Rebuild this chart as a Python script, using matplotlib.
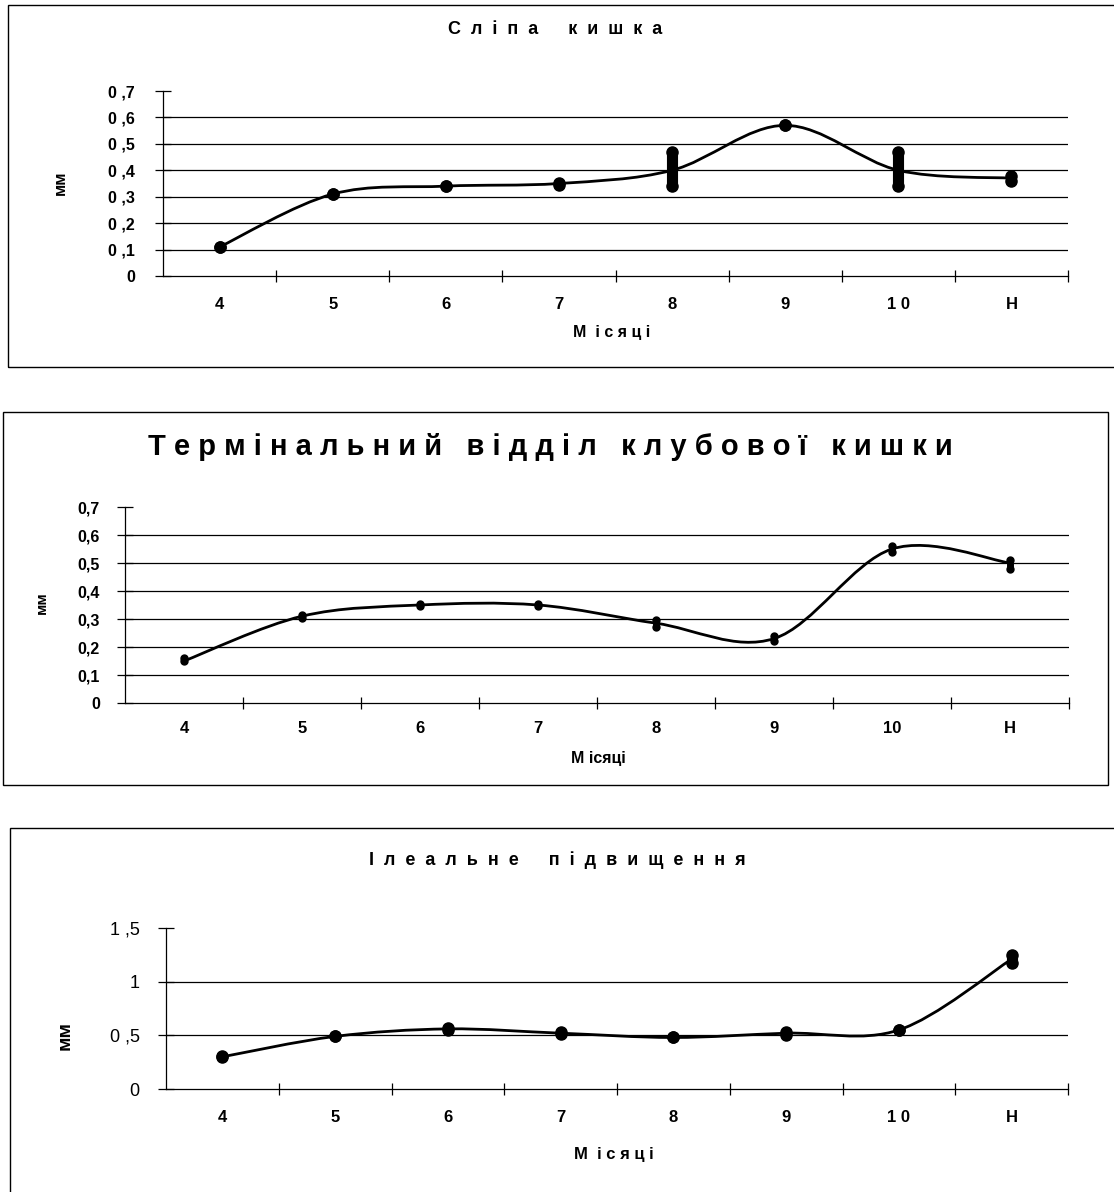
import numpy as np
import matplotlib
matplotlib.use('Agg')
import matplotlib.pyplot as plt
from matplotlib.path import Path
from matplotlib.patches import PathPatch, Rectangle

plt.rcParams['font.family'] = ['Liberation Sans', 'DejaVu Sans']

W, H = 1114, 1192

# categories (months)
months_1 = ['4', '5', '6', '7', '8', '9', '1 0', 'Н']
months_2 = ['4', '5', '6', '7', '8', '9', '10', 'Н']
months_3 = ['4', '5', '6', '7', '8', '9', '1 0', 'Н']

# Сліпа кишка: mean value and spread of the marker column
slipa_val = [0.11, 0.31, 0.34, 0.35, 0.40, 0.57, 0.40, 0.37]
slipa_lo = [0.11, 0.31, 0.34, 0.345, 0.34, 0.57, 0.34, 0.36]
slipa_hi = [0.11, 0.31, 0.34, 0.35, 0.47, 0.57, 0.47, 0.38]

# Термінальний відділ клубової кишки
term_val = [0.15, 0.31, 0.35, 0.35, 0.285, 0.23, 0.55, 0.50]
term_lo = [0.15, 0.305, 0.345, 0.345, 0.27, 0.22, 0.54, 0.48]
term_hi = [0.16, 0.315, 0.355, 0.355, 0.295, 0.24, 0.56, 0.51]

# Ілеальне підвищення
il_val = [0.30, 0.49, 0.56, 0.52, 0.48, 0.52, 0.55, 1.21]
il_lo = [0.30, 0.49, 0.55, 0.51, 0.48, 0.50, 0.55, 1.17]
il_hi = [0.31, 0.49, 0.57, 0.53, 0.48, 0.53, 0.55, 1.25]


def fx(x):
    return x / W


def fy(y):
    return 1 - y / H


def smooth_path(xs, ys):
    # Excel-style smoothed line: cubic bezier segments
    pts = np.column_stack([xs, ys]).astype(float)
    n = len(pts)
    verts = [pts[0]]
    codes = [Path.MOVETO]
    for i in range(n - 1):
        p0 = pts[i - 1] if i > 0 else pts[i]
        p1 = pts[i]
        p2 = pts[i + 1]
        p3 = pts[i + 2] if i + 2 < n else pts[i + 1]
        c1 = p1 + (p2 - p0) / 6.0
        c2 = p2 - (p3 - p1) / 6.0
        verts += [c1, c2, p2]
        codes += [Path.CURVE4] * 3
    return Path(verts, codes)


def spaced(s, gap=' ', wgap='   '):
    return wgap.join(gap.join(w) for w in s.split(' '))


def panel(fig, box, ax_px, labels, val, lo, hi, yticks, ylabels, ymax, mw,
          title, title_xy, title_size, gap, xlab, xlab_xy, xlab_size, ylab_xy, ylab_size,
          xpad, ypad, ysize, ybold):
    bx0, by0, bx1, by1 = box
    fig.add_artist(Rectangle((fx(bx0), fy(by1)), fx(bx1) - fx(bx0), fy(by0) - fy(by1),
                             transform=fig.transFigure, fill=False, ec='black', lw=1.0))
    l, t, r, b = ax_px
    ax = fig.add_axes([fx(l), fy(b), fx(r) - fx(l), fy(t) - fy(b)])
    x = np.arange(len(labels))
    ax.set_xlim(-0.5, len(labels) - 0.5)
    ax.set_ylim(0, ymax)
    for s in ['top', 'right']:
        ax.spines[s].set_visible(False)
    ax.spines['left'].set_linewidth(0.9)
    ax.spines['bottom'].set_linewidth(0.9)
    for yv in yticks[1:-1]:
        ax.axhline(yv, color='black', lw=0.9, zorder=1)
    ax.set_yticks(yticks)
    ax.set_yticklabels(ylabels, fontsize=ysize, fontweight='bold' if ybold else 'normal')
    ax.tick_params(axis='y', direction='inout', length=12, width=0.9, pad=ypad)
    ax.set_xticks(np.arange(0.5, len(labels), 1))
    ax.set_xticklabels([])
    ax.tick_params(axis='x', which='major', direction='inout', length=9, width=0.9)
    ax.set_xticks(x, minor=True)
    ax.set_xticklabels(labels, minor=True, fontsize=12, fontweight='bold')
    ax.tick_params(axis='x', which='minor', length=0, pad=xpad)

    ax.add_patch(PathPatch(smooth_path(x, val), fill=False, ec='black', lw=2.0, zorder=3))
    ax.vlines(x, lo, hi, colors='black', lw=mw, capstyle='round', zorder=4)
    ax.plot(x, lo, 'o', color='black', ms=mw, zorder=4)
    ax.plot(x, hi, 'o', color='black', ms=mw, zorder=4)

    fig.text(fx(title_xy[0]), fy(title_xy[1]), spaced(title, gap, gap * 3), ha='center', va='center',
             fontsize=title_size, fontweight='bold')
    fig.text(fx(xlab_xy[0]), fy(xlab_xy[1]), xlab, ha='center', va='center',
             fontsize=xlab_size, fontweight='bold')
    fig.text(fx(ylab_xy[0]), fy(ylab_xy[1]), 'мм', ha='center', va='center',
             fontsize=ylab_size, fontweight='bold', rotation=90)
    return ax


fig = plt.figure(figsize=(W / 100, H / 100), dpi=100)

panel(fig, (8, 5, 1125, 367), (163, 91, 1068, 276), months_1,
      slipa_val, slipa_lo, slipa_hi,
      [0, 0.1, 0.2, 0.3, 0.4, 0.5, 0.6, 0.7],
      ['0', '0 ,1', '0 ,2', '0 ,3', '0 ,4', '0 ,5', '0 ,6', '0 ,7'], 0.7, 8,
      'Сліпа кишка', (555, 30), 13, '  ', 'М  і с я ц і', (612, 333), 11.5, (60, 183), 12,
      15, 14, 11.5, True)

panel(fig, (3, 412, 1108, 785), (125, 507, 1069, 703), months_2,
      term_val, term_lo, term_hi,
      [0, 0.1, 0.2, 0.3, 0.4, 0.5, 0.6, 0.7],
      ['0', '0,1', '0,2', '0,3', '0,4', '0,5', '0,6', '0,7'], 0.7, 5,
      'Термінальний відділ клубової кишки', (550, 447), 21, ' ', 'М ісяці', (598, 758), 11.5,
      (42, 603), 11, 13, 12, 11.5, True)

panel(fig, (10, 828, 1125, 1200), (166, 928, 1068, 1089), months_3,
      il_val, il_lo, il_hi,
      [0, 0.5, 1.0, 1.5],
      ['0', '0 ,5', '1', '1 ,5'], 1.5, 8,
      'Ілеальне підвищення', (557, 860), 13, '  ', 'М  і с я ц і', (614, 1154), 12,
      (65, 1035), 14, 15, 13, 13, False)

plt.savefig('out.png', dpi=100)
